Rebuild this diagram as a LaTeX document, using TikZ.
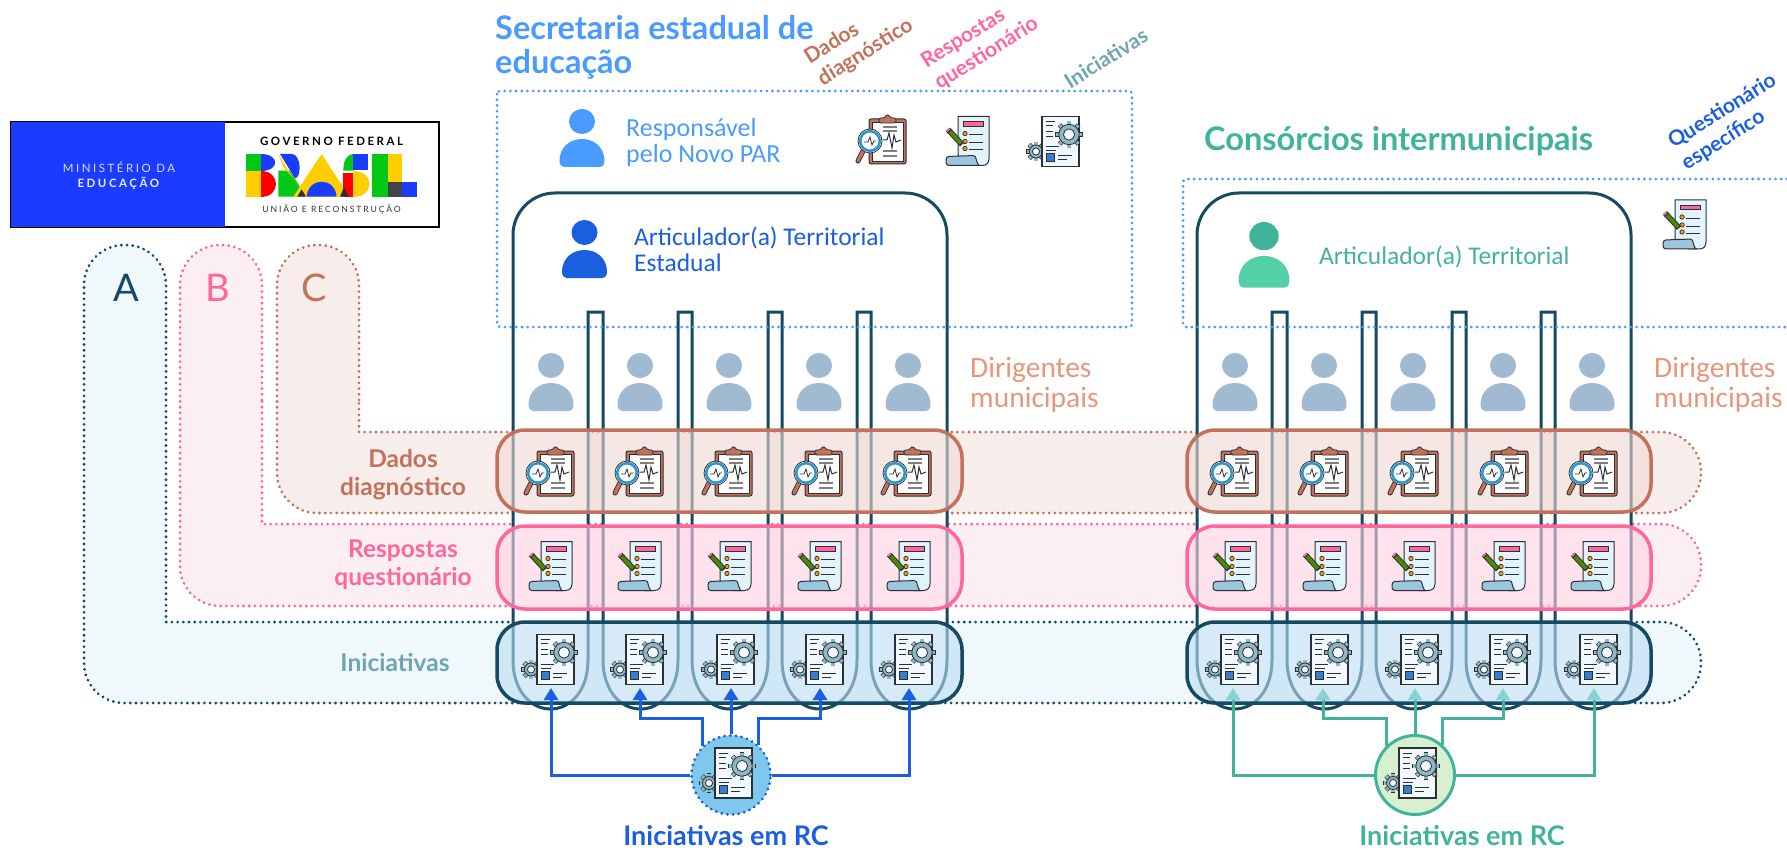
\documentclass[tikz,border=0pt]{standalone}
\usepackage{fontspec}
\setmainfont{Lato}
\newfontfamily\bodyfont{Carlito}
\newfontfamily\logofont[LetterSpace=22]{Lato}
\usetikzlibrary{arrows.meta}
\definecolor{framedark}{HTML}{154A63}
\definecolor{skyblue}{HTML}{4A9BFF}
\definecolor{strongblue}{HTML}{1A5FE0}
\definecolor{mintgreen}{HTML}{42B39B}
\definecolor{mintlight}{HTML}{52D0A8}
\definecolor{brickred}{HTML}{C4715B}
\definecolor{rosepink}{HTML}{FF6699}
\definecolor{softteal}{HTML}{6FA5B0}
\definecolor{salmon}{HTML}{E8967A}
\definecolor{personblue}{HTML}{A0BAD2}
\definecolor{iconline}{HTML}{2B3036}
\definecolor{gearfill}{HTML}{8FB7C4}
\definecolor{paperblue}{HTML}{E3F3FC}
\definecolor{scrollblue}{HTML}{9CC6DE}
\definecolor{logoblue}{HTML}{1A3CFF}
\definecolor{logogreen}{HTML}{00C814}
\definecolor{logoyellow}{HTML}{FFCE00}
\definecolor{panela}{HTML}{F0F8FB}
\definecolor{panelb}{HTML}{FCEFF3}
\definecolor{panelc}{HTML}{F7EEEC}
\definecolor{banda}{HTML}{BCDEF2}
\definecolor{bandb}{HTML}{FFD1E0}
\definecolor{bandc}{HTML}{EFD9D3}
\definecolor{tipmint}{HTML}{8AD3CD}
\tikzset {
    x=1pt, y=-1pt,
    >={Triangle[length=12pt,width=14pt]},
    dotline/.style={line width=3pt, line cap=round, dash pattern=on 0.1pt off 5.6pt},
    panel/.style={dotline, rounded corners=40pt},
    band/.style={line width=3.5pt, rounded corners=28pt, fill opacity=.6},
    ulabel/.style={inner sep=0pt, anchor=west, align=left},
    bodylbl/.style={ulabel, font=\bodyfont\fontsize{25.5}{26}\selectfont},
    headlbl/.style={ulabel, font=\bfseries\fontsize{32.5}{34}\selectfont},
    bandlbl/.style={inner sep=0pt, align=center, font=\bfseries\fontsize{24.5}{28}\selectfont},
    tiltlbl/.style={inner sep=0pt, align=left, rotate=32, font=\bfseries\fontsize{21}{25}\selectfont},
    rclbl/.style={inner sep=0pt, font=\bfseries\fontsize{27}{28}\selectfont},
    rcnode/.style={circle, minimum size=79pt, inner sep=0pt, line width=3pt},
    rcarrow/.style={->, line width=3pt},
    pics/person/.style 2 args={code={
        \fill[#1] (0,12.5) ellipse (13pt and 12.5pt);
        \fill[#2] (-22.5,52) .. controls (-22.5,38) and (-12,30) .. (0,30) .. controls (12,30) and (22.5,38) .. (22.5,52)
            .. controls (22.5,56) and (20,58) .. (18,58) -- (-18,58) .. controls (-20,58) and (-22.5,56) .. (-22.5,52) -- cycle;
    }},
    pics/gearwheel/.style={code={
        \foreach \a in {0,45,...,315} \draw[iconline, line width=4.6pt] (\a:#1) -- (\a:#1+3.4);
        \foreach \a in {0,45,...,315} \draw[gearfill, line width=3.2pt] (\a:#1) -- (\a:#1+2.9);
        \draw[iconline, fill=gearfill, line width=.8pt] (0,0) circle (#1 pt);
        \draw[iconline, fill=paperblue!50!white, line width=.8pt] (0,0) circle (#1*.55 pt);
    }},
    pics/iconchart/.style={code={
        \draw[iconline, fill=brickred, line width=1pt, rounded corners=2pt] (-12,-20) rectangle (25,25);
        \draw[iconline, fill=white, line width=.8pt] (-8.5,-17) rectangle (22,22);
        \draw[iconline, fill=brickred, line width=.8pt, rounded corners=1.5pt] (-2,-16) -- (-2,-21) -- (3,-21) -- (6.5,-25) -- (10,-21) -- (15,-21) -- (15,-16) -- cycle;
        \draw[gray, line width=1.2pt] (2,-12) -- (16,-12) (2,-8) -- (16,-8) (2,12) -- (16,12) (2,17) -- (16,17);
        \draw[iconline, line width=1pt] (2,1) -- (6,1) -- (8,-6) -- (11,9) -- (13,-4) -- (15,3) -- (20,1);
        \draw[iconline, line width=5pt, line cap=round] (-18,12) -- (-23,22);
        \draw[brickred, line width=3.2pt, line cap=round] (-18,12) -- (-23,22);
        \draw[iconline, fill=white, line width=.8pt] (-11,2) circle (12pt);
        \draw[skyblue!70!cyan!80!black, line width=2.5pt] (-11,2) circle (9.8pt);
        \draw[iconline, line width=.8pt] (-17,3) -- (-13,3) -- (-11,-2) -- (-9,6) -- (-7,2) -- (-5,2);
    }},
    pics/iconform/.style={code={
        \draw[iconline, fill=paperblue, line width=1pt] (-9,14) -- (-9,-25) -- (22,-25) -- (22,17) .. controls (22,22) and (19,24) .. (15,24) -- (5,24) -- cycle;
        \draw[iconline, fill=rosepink, line width=.8pt] (-4,-20) rectangle (16,-15.5);
        \foreach \y in {-8,0,7} {
            \draw[iconline, fill=orange!80!yellow, line width=.7pt] (-2,\y) circle (2.2pt);
            \draw[iconline, line width=.9pt] (2,\y+1) -- (16,\y+1);
        }
        \draw[iconline, fill=scrollblue, line width=1pt, rounded corners=3pt] (-21,24) -- (-21,15) -- (9,14) .. controls (9,18) and (11,24) .. (15,24) -- cycle;
        \draw[iconline, line width=5.6pt] (-19,-12) -- (-5,3);
        \draw[green!35!black!70!yellow, line width=3.6pt] (-17,-10) -- (-6,2);
        \draw[rosepink, line width=3.6pt] (-19.5,-12.5) -- (-18,-11);
    }},
    pics/icongear/.style={code={
        \pic at (-19,10) {gearwheel={6.5}};
        \draw[iconline, fill=paperblue!50!white, line width=1.2pt] (-13,-25) rectangle (24,25);
        \draw[iconline, line width=1pt] (-9,-20) -- (0,-20) (-9,-16) -- (-2,-16) (-9,-10) -- (-2,-10) (-9,-5) -- (-2,-5)
            (-9,5) -- (4,5) (-9,9) -- (1,9) (3,14) -- (17,14) (3,18) -- (12,18);
        \draw[iconline, fill=skyblue!80!black, line width=.8pt] (-9,12) rectangle (-1,20);
        \pic at (14,-7) {gearwheel={10.2}};
    }}
}
\begin{document}
\begin{tikzpicture}
    \useasboundingbox (0,0) rectangle (1787,850);

    % logo
    \begin{scope}[shift={(0,110)}, scale=.3333]
        \draw[black, line width=2pt, fill=white] (32,36) rectangle (1318,352);
        \fill[logoblue] (33,37) rectangle (675,351);
        \fill[logogreen] (738,132) rectangle (782,182);
        \fill[logoblue] (782,132) .. controls (840,132) and (840,182) .. (782,182) -- cycle;
        \fill[logoyellow] (738,182) rectangle (782,260);
        \fill[red] (782,182) .. controls (842,182) and (842,260) .. (782,260) -- cycle;
        \fill[logogreen] (835,182) -- (870,182) -- (918,260) -- (835,260) -- cycle;
        \fill[logoyellow] (835,132) -- (905,245) -- (880,205) -- (850,170) -- cycle;
        \fill[logoblue] (840,132) -- (875,132) .. controls (905,132) and (905,205) .. (885,205) -- cycle;
        \fill[logoyellow] (965,132) -- (1048,260) -- (880,260) -- cycle;
        \fill[logoblue] (920,260) .. controls (925,200) and (1005,200) .. (1010,260) -- cycle;
        \fill[iconline] (905,238) -- (918,260) -- (892,260) -- cycle;
        \fill[logogreen] (1060,132) .. controls (1035,135) and (1030,160) .. (1030,182) -- (1060,182) -- cycle;
        \fill[logoblue] (1060,132) rectangle (1105,180);
        \fill[red] (1030,190) rectangle (1060,260);
        \fill[iconline] (1032,232) -- (1045,260) -- (1020,260) -- cycle;
        \fill[logoyellow] (1060,182) .. controls (1125,182) and (1125,260) .. (1060,260) -- cycle;
        \fill[logogreen] (1115,132) rectangle (1165,260);
        \fill[logoyellow] (1165,132) rectangle (1205,215);
        \fill[iconline!90] (1165,215) rectangle (1205,260);
        \fill[logoblue] (1205,215) rectangle (1250,260);
        \node[inner sep=0pt, text=white!85!blue, font=\logofont\fontsize{11.5}{13}\selectfont] (minist) at (357,171) {MINISTÉRIO DA};
        \node[inner sep=0pt, text=white!92!blue, font=\logofont\bfseries\fontsize{11.5}{13}\selectfont] (educ) at (355,220) {EDUCAÇÃO};
        \node[inner sep=0pt, font=\logofont\bfseries\fontsize{11.5}{13}\selectfont] (gov) at (995,95) {GOVERNO FEDERAL};
        \node[inner sep=0pt, text=black!80, font=\logofont\fontsize{8.6}{11}\selectfont] (uniao) at (995,297) {UNIÃO E RECONSTRUÇÃO};
    \end{scope}

    % A, B, C
    \draw[panel, draw=framedark, fill=panela] (166,400) [rounded corners=40pt] -- (166,245) -- (84,245) -- (84,703) -- (1701,703) -- (1701,622) [sharp corners] -- (166,622) -- cycle;
    \draw[panel, draw=rosepink, fill=panelb] (262,400) [rounded corners=40pt] -- (262,245) -- (180,245) -- (180,606) -- (1701,606) -- (1701,524) [sharp corners] -- (262,524) -- cycle;
    \draw[panel, draw=brickred, fill=panelc] (359,400) [rounded corners=40pt] -- (359,245) -- (277,245) -- (277,513) -- (1701,513) -- (1701,432) [sharp corners] -- (359,432) -- cycle;
    \node[inner sep=0pt, text=framedark, font=\fontsize{38}{40}\selectfont] (lettera) at (126,288) {A};
    \node[inner sep=0pt, text=rosepink, font=\fontsize{38}{40}\selectfont] (letterb) at (218,288) {B};
    \node[inner sep=0pt, text=brickred, font=\fontsize{38}{40}\selectfont] (letterc) at (314,288) {C};

    % articuladores e dirigentes
    \foreach \dx in {0,684} {
        \begin{scope}[shift={(\dx,0)}]
            \draw[framedark, line width=3pt, fill=white]
                (513,400) [rounded corners=42pt] -- (513,193) -- (947,193) -- (947,400) [sharp corners] -- (947,660)
                .. controls (947,690) and (930,709) .. (909,709) .. controls (888,709) and (871,690) .. (871,660) -- (871,312) -- (857,312) -- (857,660)
                .. controls (857,690) and (840,709) .. (819.5,709) .. controls (799,709) and (782,690) .. (782,660) -- (782,312) -- (768,312) -- (768,660)
                .. controls (768,690) and (751,709) .. (730,709) .. controls (709,709) and (692,690) .. (692,660) -- (692,312) -- (678,312) -- (678,660)
                .. controls (678,690) and (661,709) .. (640.5,709) .. controls (620,709) and (603,690) .. (603,660) -- (603,312) -- (588,312) -- (588,660)
                .. controls (588,690) and (571,709) .. (550.5,709) .. controls (530,709) and (513,690) .. (513,660) -- cycle;
            \foreach \x in {551,640,729,819,908}
                \pic at (\x,353) {person={personblue}{personblue}};
        \end{scope}
    }

    \draw[dotline, draw=skyblue, rounded corners=3pt] (497,91) rectangle (1132,327);
    \draw[dotline, draw=skyblue, rounded corners=3pt] (1787,179) -- (1183,179) -- (1183,327) -- (1787,327);

    \pic at (582,109) {person={skyblue}{skyblue}};
    \pic at (584.5,220) {person={strongblue}{strongblue}};
    \pic[scale=1.13] at (1264,222) {person={mintgreen}{mintlight}};

    % faixas
    \foreach \bx/\bw in {497/465,1187/464} {
        \draw[band, draw=brickred, fill=bandc] (\bx,430) rectangle (\bx+\bw,512);
        \draw[band, draw=rosepink, fill=bandb] (\bx,526) rectangle (\bx+\bw,609);
        \draw[band, draw=framedark, fill=banda] (\bx,622) rectangle (\bx+\bw,703);
    }

    \foreach \x in {549,638,727,817,906,1233,1323,1413,1503,1592}
        \pic at (\x,471) {iconchart};
    \foreach \x in {550,639,729,819,908,1234,1324,1413,1503,1592}
        \pic at (\x,566.5) {iconform};
    \foreach \x in {550,639,730,819,908,1234,1324,1414,1503,1593}
        \pic at (\x,659.5) {icongear};
    \pic at (881,139) {iconchart};
    \pic at (967,141.5) {iconform};
    \pic at (1055,141.5) {icongear};
    \pic at (1684,225) {iconform};

    % textos
    \node[headlbl, text=skyblue] (secretaria) at (495,47) {Secretaria estadual de\\educação};
    \node[headlbl, text=mintgreen] (consorcios) at (1204,141) {Consórcios intermunicipais};
    \node[bodylbl, text=skyblue, font=\bodyfont\fontsize{26}{26}\selectfont] (responsavel) at (626,143) {Responsável\\pelo Novo PAR};
    \node[bodylbl, text=strongblue] (artest) at (634,249) {Articulador(a) Territorial\\Estadual};
    \node[bodylbl, text=mintgreen] (artcons) at (1319,257) {Articulador(a) Territorial};
    \node[bodylbl, text=salmon, font=\bodyfont\fontsize{29.5}{30}\selectfont] (dirleft) at (970,385) {Dirigentes\\municipais};
    \node[bodylbl, text=salmon, font=\bodyfont\fontsize{29.5}{30}\selectfont] (dirright) at (1654,385) {Dirigentes\\municipais};
    \node[bandlbl, text=brickred] (dadosband) at (403,475) {Dados\\diagnóstico};
    \node[bandlbl, text=rosepink] (respband) at (403,565) {Respostas\\questionário};
    \node[bandlbl, text=softteal] (inicband) at (395,662) {Iniciativas};
    \node[tiltlbl, text=brickred] (dadostilt) at (859,42) {Dados\\diagnóstico};
    \node[tiltlbl, text=rosepink] (resptilt) at (980,43) {Respostas\\questionário};
    \node[tiltlbl, text=softteal] (inictilt) at (1106,58) {Iniciativas};
    \node[tiltlbl, text=strongblue] (questtilt) at (1729,122) {Questionário\\específico};
    \node[rclbl, text=strongblue] (rclblleft) at (726,836) {Iniciativas em RC};
    \node[rclbl, text=mintgreen] (rclblright) at (1462,836) {Iniciativas em RC};

    % setas
    \node[rcnode, draw=none] (rcleft) at (731,775) {};
    \node[rcnode, draw=none] (rcright) at (1415,775) {};
    \foreach \n/\x in {1/551,2/640,3/731,4/820,5/909} {
        \coordinate (tipl\n) at (\x,688);
        \coordinate (kneel\n) at (\x,718);
    }
    \foreach \n/\x in {1/1233,2/1323,3/1415,4/1503,5/1594} {
        \coordinate (tipr\n) at (\x,688);
        \coordinate (kneer\n) at (\x,718);
    }
    \draw[rcarrow, strongblue] (rcleft.west) -| (tipl1);
    \draw[rcarrow, strongblue] (rcleft.134) |- (kneel2) -- (tipl2);
    \draw[rcarrow, strongblue] (rcleft.north) -- (tipl3);
    \draw[rcarrow, strongblue] (rcleft.47) |- (kneel4) -- (tipl4);
    \draw[rcarrow, strongblue] (rcleft.east) -| (tipl5);
    \tikzset{>={Triangle[length=12pt,width=14pt,color=tipmint]}}
    \draw[rcarrow, mintgreen] (rcright.west) -| (tipr1);
    \draw[rcarrow, mintgreen] (rcright.134) |- (kneer2) -- (tipr2);
    \draw[rcarrow, mintgreen] (rcright.north) -- (tipr3);
    \draw[rcarrow, mintgreen] (rcright.47) |- (kneer4) -- (tipr4);
    \draw[rcarrow, mintgreen] (rcright.east) -| (tipr5);

    \definecolor{discblue}{HTML}{7FC7EC}
    \definecolor{discgreen}{HTML}{D8F0D0}
    \node[rcnode, draw=strongblue, dotline, fill=discblue] (rcleftdisc) at (rcleft) {};
    \node[rcnode, draw=mintgreen, fill=discgreen] (rcrightdisc) at (rcright) {};
    \pic at (728,773) {icongear};
    \pic at (1412,773) {icongear};
\end{tikzpicture}
\end{document}
